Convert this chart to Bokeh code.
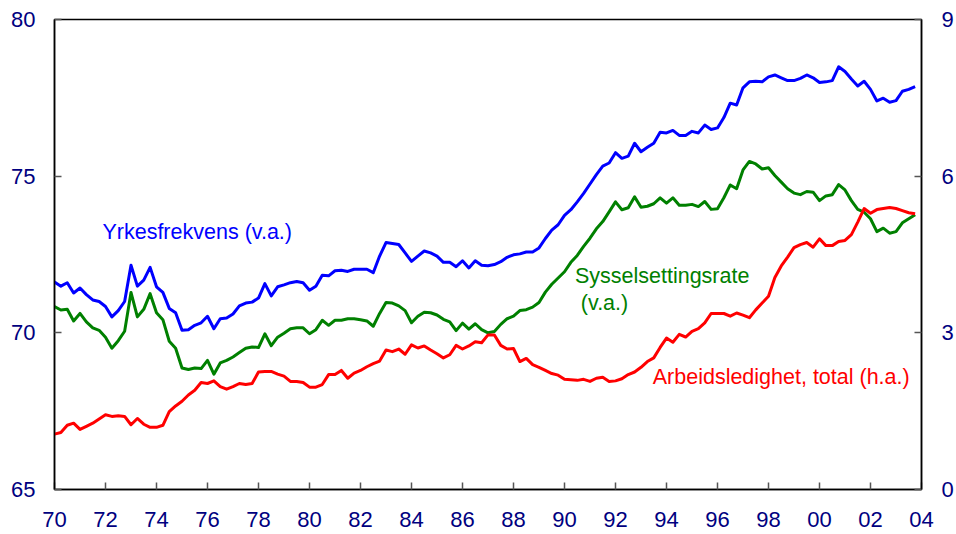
import numpy as np
from bokeh.plotting import figure
from bokeh.models import Range1d, LinearAxis, FixedTicker, Label, ColumnDataSource
from bokeh.embed import file_html
from bokeh.resources import INLINE

# Quarterly observations 1970Q1 - 2003Q4
quarters = list(np.arange(1970, 2004, 0.25))

# Yrkesfrekvens (left axis, per cent)
yrkesfrekvens = [
    71.62, 71.49, 71.60, 71.27, 71.43, 71.22, 71.05, 71.00, 70.84, 70.51,
    70.71, 71.00, 72.16, 71.49, 71.68, 72.09, 71.47, 71.29, 70.78, 70.64,
    70.08, 70.10, 70.24, 70.32, 70.53, 70.13, 70.45, 70.47, 70.60, 70.86,
    70.95, 70.98, 71.11, 71.57, 71.18, 71.47, 71.53, 71.60, 71.64, 71.60,
    71.36, 71.49, 71.84, 71.82, 71.98, 72.00, 71.96, 72.03, 72.03, 72.03,
    71.92, 72.45, 72.88, 72.85, 72.82, 72.55, 72.28, 72.45, 72.61, 72.55,
    72.45, 72.25, 72.25, 72.11, 72.30, 72.07, 72.30,
    72.16, 72.14, 72.18, 72.27, 72.41, 72.49, 72.52, 72.58, 72.58, 72.71,
    73.01, 73.28, 73.45, 73.75, 73.93, 74.18, 74.45, 74.75, 75.05, 75.32,
    75.42, 75.75, 75.57, 75.64, 76.05, 75.78, 75.92, 76.05, 76.40, 76.38,
    76.46, 76.30, 76.30, 76.43, 76.38, 76.63, 76.49, 76.54, 76.87, 77.33,
    77.27, 77.82, 78.01, 78.03, 78.01, 78.17, 78.23, 78.14, 78.05, 78.05,
    78.12, 78.23, 78.14, 77.99, 78.01, 78.05, 78.49, 78.34, 78.10, 77.88,
    78.03, 77.77, 77.40, 77.49, 77.36, 77.41, 77.71, 77.77, 77.86,
]

# Sysselsettingsrate (left axis, per cent)
sysselsettingsrate = [
    70.84, 70.73, 70.75, 70.38, 70.62, 70.35, 70.16, 70.08, 69.86, 69.51,
    69.75, 70.05, 71.29, 70.51, 70.75, 71.25, 70.64, 70.42, 69.73, 69.51,
    68.88, 68.83, 68.88, 68.86, 69.12, 68.68, 69.04, 69.12, 69.23, 69.37,
    69.51, 69.55, 69.53, 69.97, 69.59, 69.86, 69.99, 70.13, 70.16, 70.16,
    69.97, 70.10, 70.40, 70.24, 70.40, 70.40, 70.45, 70.45, 70.42, 70.38,
    70.21, 70.62, 70.97, 70.95, 70.86, 70.71, 70.32, 70.53, 70.66, 70.64,
    70.57,
    70.43, 70.35, 70.07, 70.31, 70.12, 70.29, 70.10, 70.00, 70.04, 70.27,
    70.45, 70.53, 70.71, 70.74, 70.82, 70.97, 71.30, 71.55,
    71.75, 71.95, 72.25, 72.47, 72.76,
    73.02, 73.32, 73.55, 73.86, 74.18, 73.93, 73.99, 74.34, 74.01, 74.04,
    74.12, 74.31, 74.14, 74.31, 74.07, 74.07, 74.10, 74.03, 74.19, 73.94,
    73.96, 74.31, 74.72, 74.60, 75.20, 75.47, 75.39, 75.23, 75.27, 75.02,
    74.81, 74.60,
    74.46, 74.41, 74.51, 74.49, 74.22, 74.37, 74.41, 74.73, 74.56, 74.22,
    73.94, 73.85, 73.64, 73.23, 73.34, 73.18, 73.23, 73.51, 73.64, 73.77,
]

# Arbeidsledighet, total (right axis, per cent)
arbeidsledighet = [
    1.06, 1.09, 1.23, 1.27, 1.15, 1.21, 1.27, 1.35, 1.43, 1.40,
    1.41, 1.40, 1.24, 1.36, 1.25, 1.19, 1.19, 1.23, 1.49, 1.60,
    1.69, 1.81, 1.90, 2.05, 2.03, 2.08, 1.97, 1.92, 1.97, 2.03,
    2.01, 2.03, 2.25, 2.26, 2.26, 2.21, 2.17, 2.07, 2.07, 2.05,
    1.96, 1.96, 2.01, 2.20, 2.20, 2.28, 2.13, 2.23, 2.28, 2.35,
    2.41, 2.46, 2.67, 2.64, 2.69, 2.59, 2.77, 2.71, 2.75, 2.67,
    2.60,
    2.52, 2.58, 2.76, 2.69, 2.75, 2.83, 2.81, 2.96, 2.96, 2.76,
    2.69, 2.70, 2.45, 2.51, 2.39, 2.34, 2.28, 2.22, 2.19, 2.11,
    2.10, 2.09, 2.11, 2.07, 2.13,
    2.15, 2.07, 2.08, 2.12, 2.20, 2.25, 2.34, 2.45, 2.52, 2.72,
    2.90, 2.82, 2.97, 2.92, 3.03, 3.08, 3.19, 3.37, 3.37, 3.37,
    3.32, 3.38, 3.34, 3.29, 3.44, 3.57, 3.70, 4.06, 4.28, 4.45,
    4.63, 4.69, 4.73, 4.64, 4.80, 4.67, 4.67, 4.75, 4.77, 4.88,
    5.12, 5.38, 5.29, 5.36, 5.38, 5.40, 5.38, 5.34, 5.30, 5.28,
]

x_ticks = list(range(1970, 2005, 2))
x_tick_labels = {t: f"{t % 100:02d}" for t in x_ticks}
left_ticks = [65, 70, 75, 80]
right_ticks = [0, 3, 6, 9]

FONT = "Liberation Sans"
TICK_COLOR = "#000080"

src = ColumnDataSource(dict(x=quarters, yf=yrkesfrekvens, sr=sysselsettingsrate, al=arbeidsledighet))

p = figure(width=956, height=534, output_backend="svg", toolbar_location=None,
           x_range=Range1d(1970, 2004), y_range=Range1d(65, 80),
           min_border_left=54, min_border_right=34, min_border_top=19, min_border_bottom=45)
p.extra_y_ranges = {"right": Range1d(0, 9)}
p.xgrid.visible = False
p.ygrid.visible = False
p.outline_line_color = "black"
p.outline_line_width = 1.5
p.background_fill_color = "white"
p.border_fill_color = "white"

p.line("x", "yf", source=src, line_color="#0000FF", line_width=3, line_join="round")
p.line("x", "sr", source=src, line_color="#008000", line_width=3, line_join="round")
p.line("x", "al", source=src, line_color="#FF0000", line_width=3, line_join="round",
       y_range_name="right")

def style_axis(ax, standoff):
    ax.axis_line_color = "black"
    ax.axis_line_width = 1.5
    ax.major_tick_in = 7
    ax.major_tick_out = 0
    ax.minor_tick_in = 0
    ax.minor_tick_out = 0
    ax.major_tick_line_color = "#555555"
    ax.major_tick_line_width = 1.5
    ax.major_label_text_font = FONT
    ax.major_label_text_font_size = "22px"
    ax.major_label_text_color = TICK_COLOR
    ax.major_label_standoff = standoff

xa = p.xaxis[0]
xa.ticker = FixedTicker(ticks=x_ticks)
xa.major_label_overrides = x_tick_labels
style_axis(xa, 22)

ya = p.yaxis[0]
ya.ticker = FixedTicker(ticks=left_ticks)
style_axis(ya, 19)

ra = LinearAxis(y_range_name="right", ticker=FixedTicker(ticks=right_ticks))
style_axis(ra, 20)
p.add_layout(ra, "right")

labels = [
    ("Yrkesfrekvens (v.a.)", 1971.88, 73.22, "#0000FF"),
    ("Sysselsettingsrate", 1990.41, 71.80, "#008000"),
    ("(v.a.)", 1990.64, 70.95, "#008000"),
    ("Arbeidsledighet, total (h.a.)", 1993.46, 68.59, "#FF0000"),
]
for txt, lx, ly, col in labels:
    p.add_layout(Label(x=lx, y=ly, text=txt, text_font=FONT, text_font_size="21.5px",
                       text_color=col, text_baseline="middle", text_align="left"))

open("out.html", "w").write(file_html(p, INLINE))
